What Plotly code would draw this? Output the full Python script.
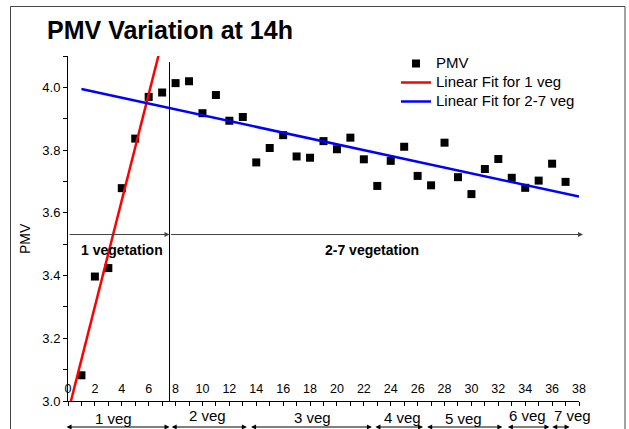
import plotly.graph_objects as go

# ---- data ----
pmv_x = list(range(1, 38))
pmv_y = [3.082, 3.397, 3.424, 3.679, 3.837, 3.970, 3.984, 4.014, 4.020, 3.918,
         3.976, 3.894, 3.906, 3.761, 3.807, 3.848, 3.780, 3.776, 3.829, 3.803,
         3.840, 3.771, 3.686, 3.766, 3.811, 3.718, 3.688, 3.824, 3.714, 3.660,
         3.740, 3.772, 3.712, 3.680, 3.703, 3.757, 3.699]

fit1_x = [0, 7]
fit1_y = [2.963, 4.148]
fit2_x = [1, 38]
fit2_y = [3.995, 3.652]

divider_x = 7.55
region_y = 3.531
region_labels = ["1 vegetation", "2-7 vegetation"]
region_label_x = [4.0, 22.6]
region_end_x = [7.55, 38.3]

veg_labels = ["1 veg", "2 veg", "3 veg", "4 veg", "5 veg", "6 veg", "7 veg"]
veg_start = [-0.22, 7.6, 13.5, 22.75, 26.6, 32.6, 35.9]
veg_end = [7.55, 13.3, 22.6, 26.4, 32.3, 35.8, 37.3]
veg_label_x = [3.35, 10.4, 18.2, 24.9, 29.4, 34.2, 37.5]
veg_label_y = [-0.05, -0.042, -0.048, -0.048, -0.05, -0.042, -0.042]

x_ticks = list(range(0, 40, 2))
y_ticks = [3.0, 3.2, 3.4, 3.6, 3.8, 4.0]

FONT = "Liberation Sans, Arial, sans-serif"


def leg(name):
    return '<span style="font-size:15px">%s</span>' % name


fig = go.Figure()
fig.add_trace(go.Scatter(x=pmv_x, y=pmv_y, mode="markers", name=leg("PMV"),
                         marker=dict(symbol="square", size=8, color="black")))
fig.add_trace(go.Scatter(x=fit1_x, y=fit1_y, mode="lines", name=leg("Linear Fit for 1 veg"),
                         line=dict(color="#ff0000", width=2.5)))
fig.add_trace(go.Scatter(x=fit2_x, y=fit2_y, mode="lines", name=leg("Linear Fit for 2-7 veg"),
                         line=dict(color="#0000ff", width=2.5)))
# invisible carrier trace for the label axis (tick labels sit inside the frame)
fig.add_trace(go.Scatter(x=pmv_x, y=pmv_y, xaxis="x2", mode="markers",
                         marker=dict(opacity=0), showlegend=False, hoverinfo="skip"))

# vertical divider
fig.add_shape(type="line", xref="x", yref="y", x0=divider_x, x1=divider_x,
              y0=3.0, y1=4.081, line=dict(color="black", width=1))

# outer frame
fig.add_shape(type="rect", xref="paper", yref="paper",
              x0=(10.5 - 68) / 511, x1=(625 - 68) / 511, y0=-0.3, y1=(401 - 6.5) / 345,
              line=dict(color="#444", width=1), fillcolor="rgba(0,0,0,0)")

ann = []
# region arrows inside the plot
starts = [0, divider_x]
for lab, lx, sx, ex in zip(region_labels, region_label_x, starts, region_end_x):
    ann.append(dict(x=ex, y=region_y, xref="x", yref="y", ax=sx, ay=region_y,
                    axref="x", ayref="y", text="", showarrow=True, arrowhead=2,
                    arrowsize=1, arrowwidth=1, arrowcolor="#444", standoff=0,
                    startstandoff=0))
    ann.append(dict(x=lx, y=region_y - 0.05, xref="x", yref="y", text="<b>%s</b>" % lab,
                    xanchor="center", yanchor="middle", showarrow=False,
                    font=dict(family=FONT, size=14, color="black")))

# veg arrows below the axis
arrow_y = (401 - 427) / 345
for lab, sx, ex, lx, ly in zip(veg_labels, veg_start, veg_end, veg_label_x, veg_label_y):
    ann.append(dict(x=ex, y=arrow_y, xref="x", yref="paper", ax=sx, ay=0,
                    axref="x", ayref="pixel", text="", showarrow=True, arrowhead=2,
                    arrowside="end+start", arrowsize=1, arrowwidth=1, arrowcolor="black",
                    standoff=0, startstandoff=0))
    ann.append(dict(x=lx, y=ly, xref="x", yref="paper", text=lab, showarrow=False,
                    xanchor="center", yanchor="middle",
                    font=dict(family=FONT, size=15, color="black")))

# y axis title
ann.append(dict(x=(25 - 68) / 511, y=(401 - 239) / 345, xref="paper", yref="paper",
                text="PMV", textangle=-90, showarrow=False, xanchor="center", yanchor="middle",
                font=dict(family=FONT, size=14, color="black")))

fig.update_layout(
    width=629, height=429,
    margin=dict(l=68, r=50, t=56, b=28),
    paper_bgcolor="white", plot_bgcolor="white",
    font=dict(family=FONT, color="black"),
    title=dict(text="<b>PMV Variation at 14h</b>", xref="paper", x=(170 - 68) / 511,
               xanchor="center", yref="container", y=1 - 30 / 429, yanchor="middle",
               font=dict(family=FONT, size=25, color="black")),
    showlegend=True,
    legend=dict(x=(396 - 68) / 511, y=(401 - 49) / 345, xanchor="left", yanchor="top",
                bgcolor="rgba(0,0,0,0)", borderwidth=0,
                font=dict(family=FONT, size=11.5, color="black")),
    annotations=ann,
    xaxis=dict(range=[0, 38], tickmode="array", tickvals=x_ticks,
               ticks="outside", ticklen=4, tickcolor="black", tickwidth=1,
               minor=dict(dtick=1, tick0=0, ticks="outside", ticklen=4, tickcolor="black"),
               showticklabels=False,
               showline=True, linecolor="black", linewidth=1,
               showgrid=False, zeroline=False),
    xaxis2=dict(range=[0, 38], overlaying="x", anchor="free", position=(401 - 379) / 345,
                side="bottom", tickmode="array", tickvals=x_ticks,
                ticktext=[str(v) for v in x_ticks], ticks="", showline=False,
                showgrid=False, zeroline=False,
                tickfont=dict(family=FONT, size=12.5, color="black")),
    yaxis=dict(range=[3.0, 4.1005], tickmode="array", tickvals=y_ticks,
               ticktext=["%.1f" % v for v in y_ticks],
               ticks="outside", ticklen=4, tickcolor="black", tickwidth=1,
               minor=dict(dtick=0.1, tick0=3.0, ticks="outside", ticklen=4, tickcolor="black"),
               tickfont=dict(family=FONT, size=13),
               showline=True, linecolor="black", linewidth=1,
               showgrid=False, zeroline=False),
)

fig.write_html("out.html")
